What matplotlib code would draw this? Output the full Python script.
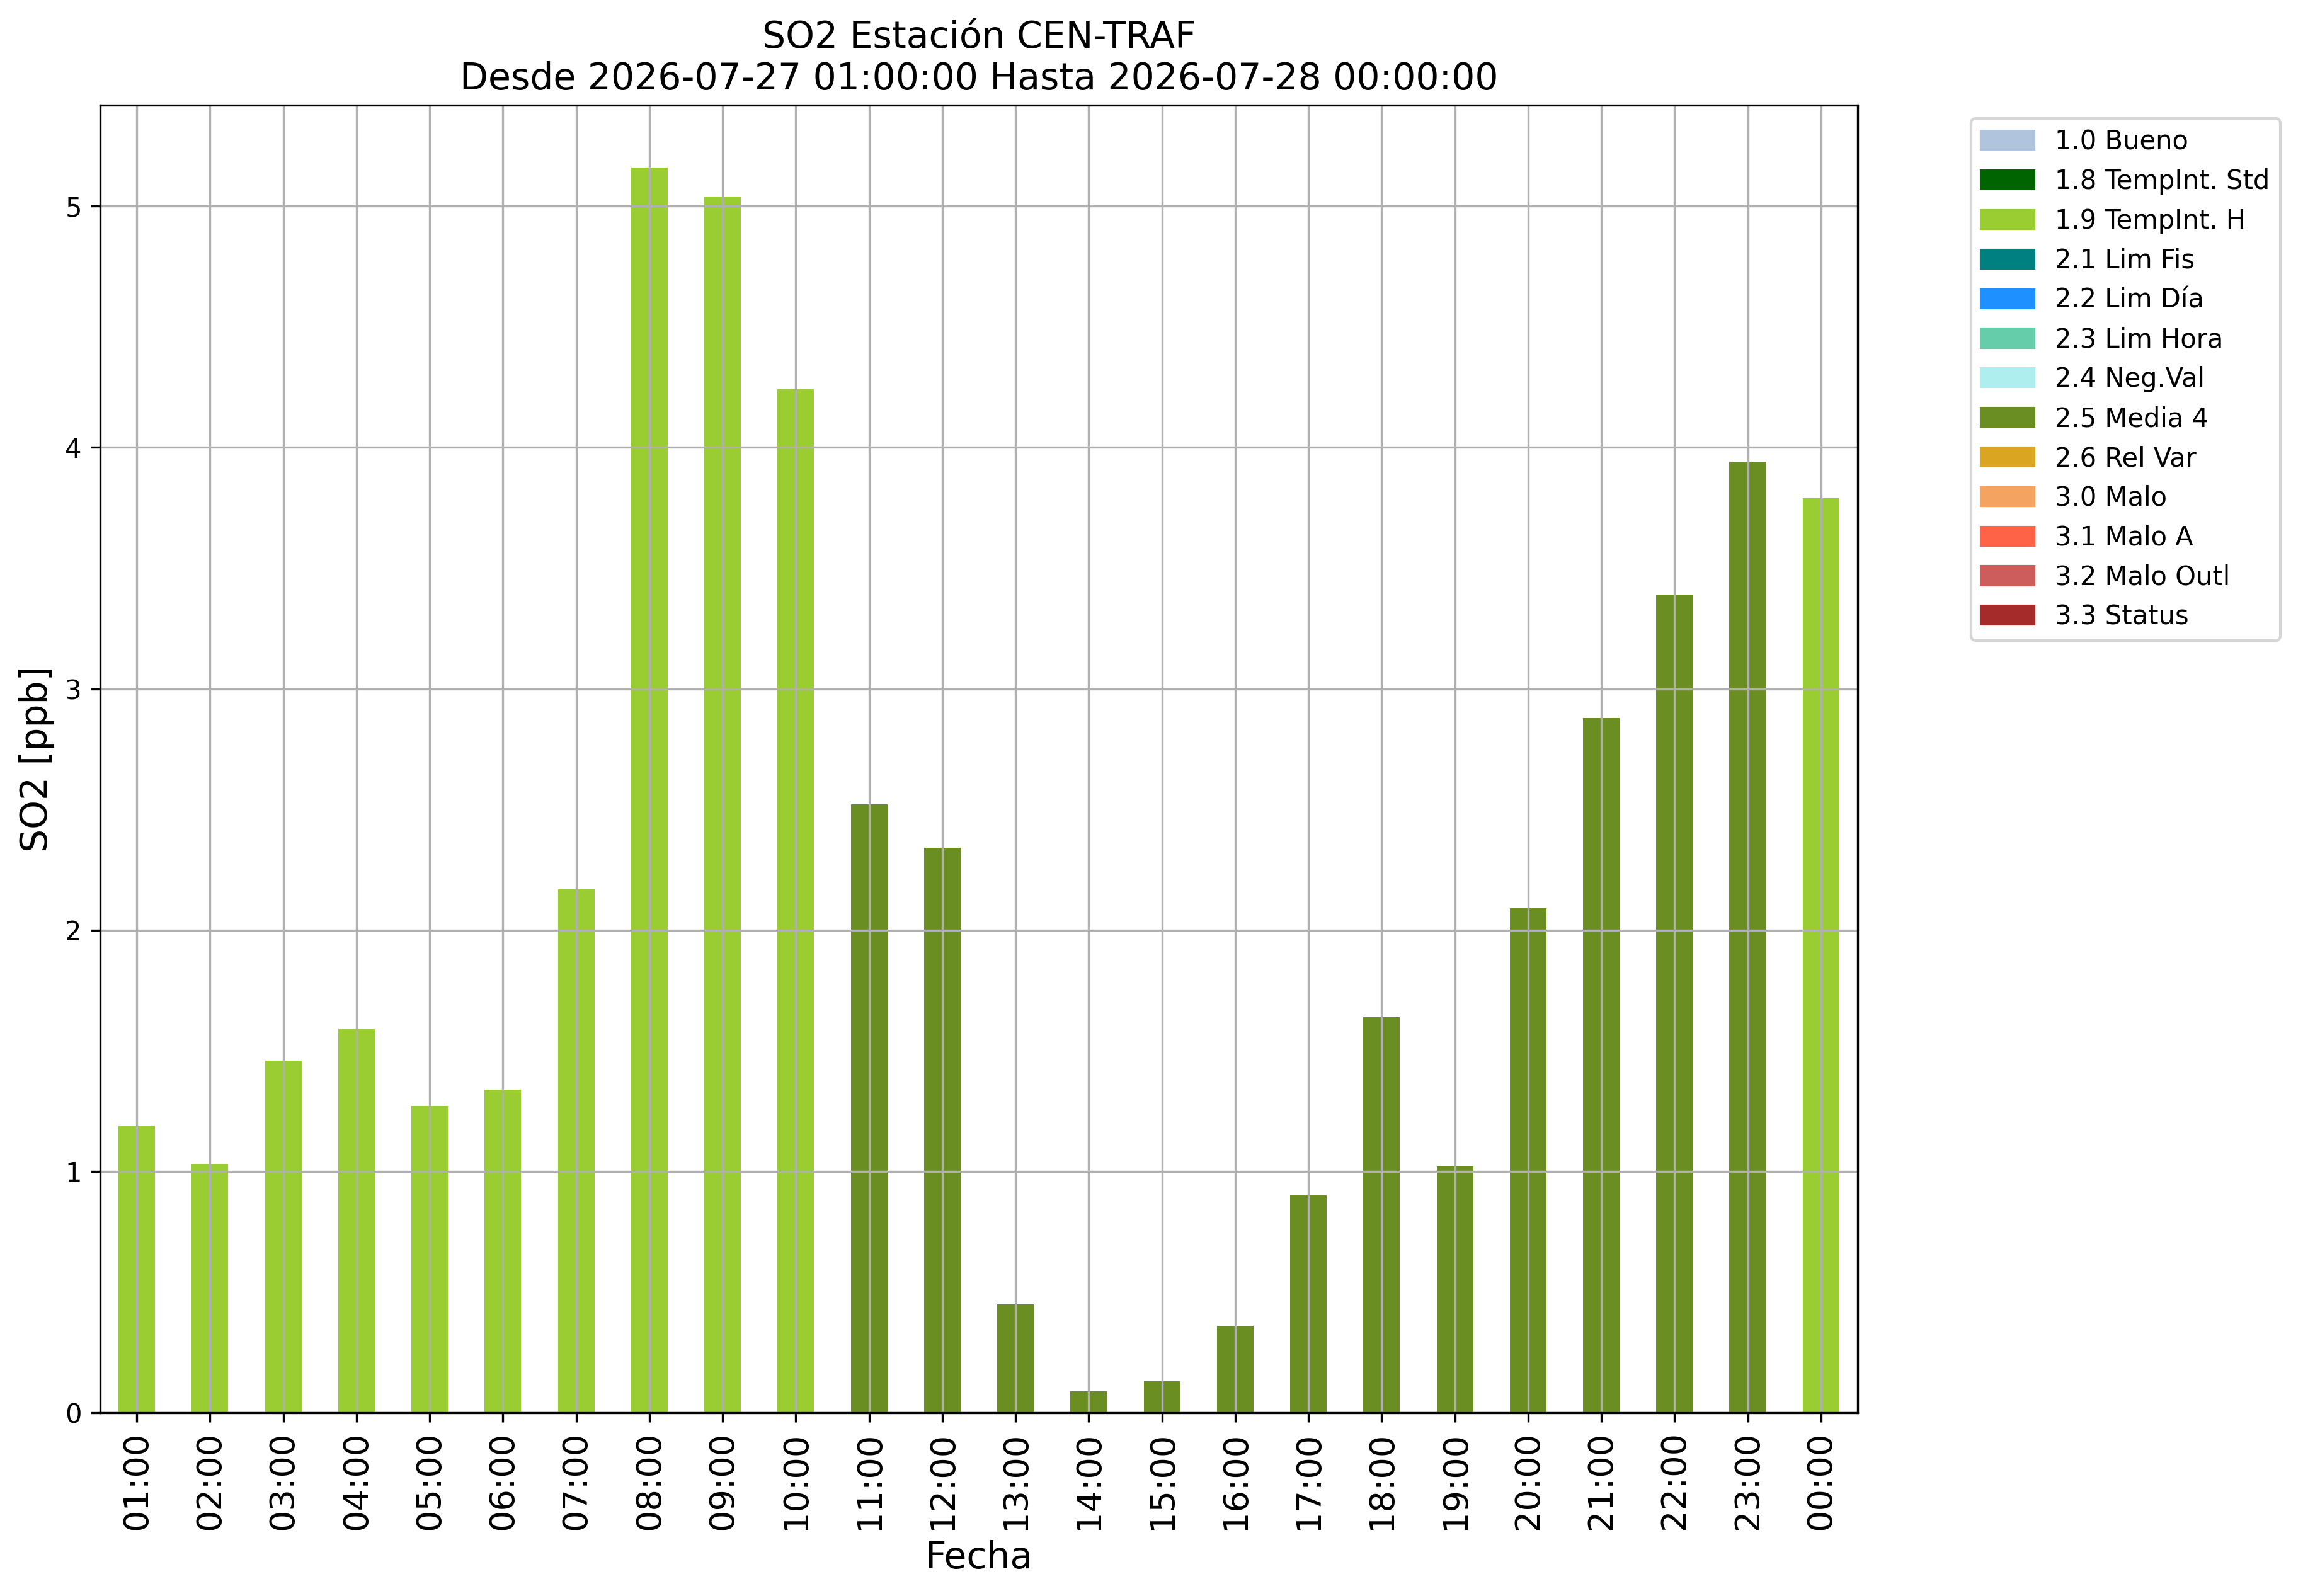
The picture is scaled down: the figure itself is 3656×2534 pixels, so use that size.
import matplotlib
matplotlib.use("Agg")
import matplotlib.pyplot as plt
from matplotlib.patches import Patch

# ======================
# DATA
# ======================
hours = ["01:00", "02:00", "03:00", "04:00", "05:00", "06:00", "07:00", "08:00",
         "09:00", "10:00", "11:00", "12:00", "13:00", "14:00", "15:00", "16:00",
         "17:00", "18:00", "19:00", "20:00", "21:00", "22:00", "23:00", "00:00"]
so2 = [1.19, 1.03, 1.46, 1.59, 1.27, 1.34, 2.17, 5.16,
       5.04, 4.24, 2.52, 2.34, 0.45, 0.09, 0.13, 0.36,
       0.90, 1.64, 1.02, 2.09, 2.88, 3.39, 3.94, 3.79]
# validation flag of each hour
flags = ["1.9", "1.9", "1.9", "1.9", "1.9", "1.9", "1.9", "1.9",
         "1.9", "1.9", "2.5", "2.5", "2.5", "2.5", "2.5", "2.5",
         "2.5", "2.5", "2.5", "2.5", "2.5", "2.5", "2.5", "1.9"]

flag_codes = ["1.0", "1.8", "1.9", "2.1", "2.2", "2.3", "2.4",
              "2.5", "2.6", "3.0", "3.1", "3.2", "3.3"]
flag_names = ["Bueno", "TempInt. Std", "TempInt. H", "Lim Fis", "Lim Día", "Lim Hora",
              "Neg.Val", "Media 4", "Rel Var", "Malo", "Malo A", "Malo Outl", "Status"]
flag_colors = ["lightsteelblue", "darkgreen", "yellowgreen", "teal", "dodgerblue",
               "mediumaquamarine", "paleturquoise", "olivedrab", "goldenrod",
               "sandybrown", "tomato", "indianred", "brown"]

color_of = dict(zip(flag_codes, flag_colors))

# ======================
# PLOT
# ======================
fig = plt.figure(figsize=(3656 / 300, 2534 / 300), dpi=300)
ax = fig.add_axes([0.0435, 0.1148, 0.8066 - 0.0435, 0.9341 - 0.1148])

x = list(range(len(hours)))
ax.bar(x, so2, width=0.5, color=[color_of[f] for f in flags])
ax.set_xlim(-0.5, len(hours) - 0.5)

ax.set_xticks(x)
ax.set_xticklabels(hours, rotation=90, fontsize=13)
ax.tick_params(axis="y", labelsize=10)
ax.grid(True)

ax.set_xlabel("Fecha", fontsize=14)
ax.set_ylabel("SO2 [ppb]", fontsize=14)
ax.set_title("SO2 Estación CEN-TRAF\nDesde 2026-07-27 01:00:00 Hasta 2026-07-28 00:00:00",
             fontsize=14)

handles = [Patch(color=c, label=f"{code} {name}")
           for code, name, c in zip(flag_codes, flag_names, flag_colors)]
ax.legend(handles=handles, loc="upper left", bbox_to_anchor=(1.057, 1.0), fontsize=10)

fig.savefig("out.png", dpi=300)
